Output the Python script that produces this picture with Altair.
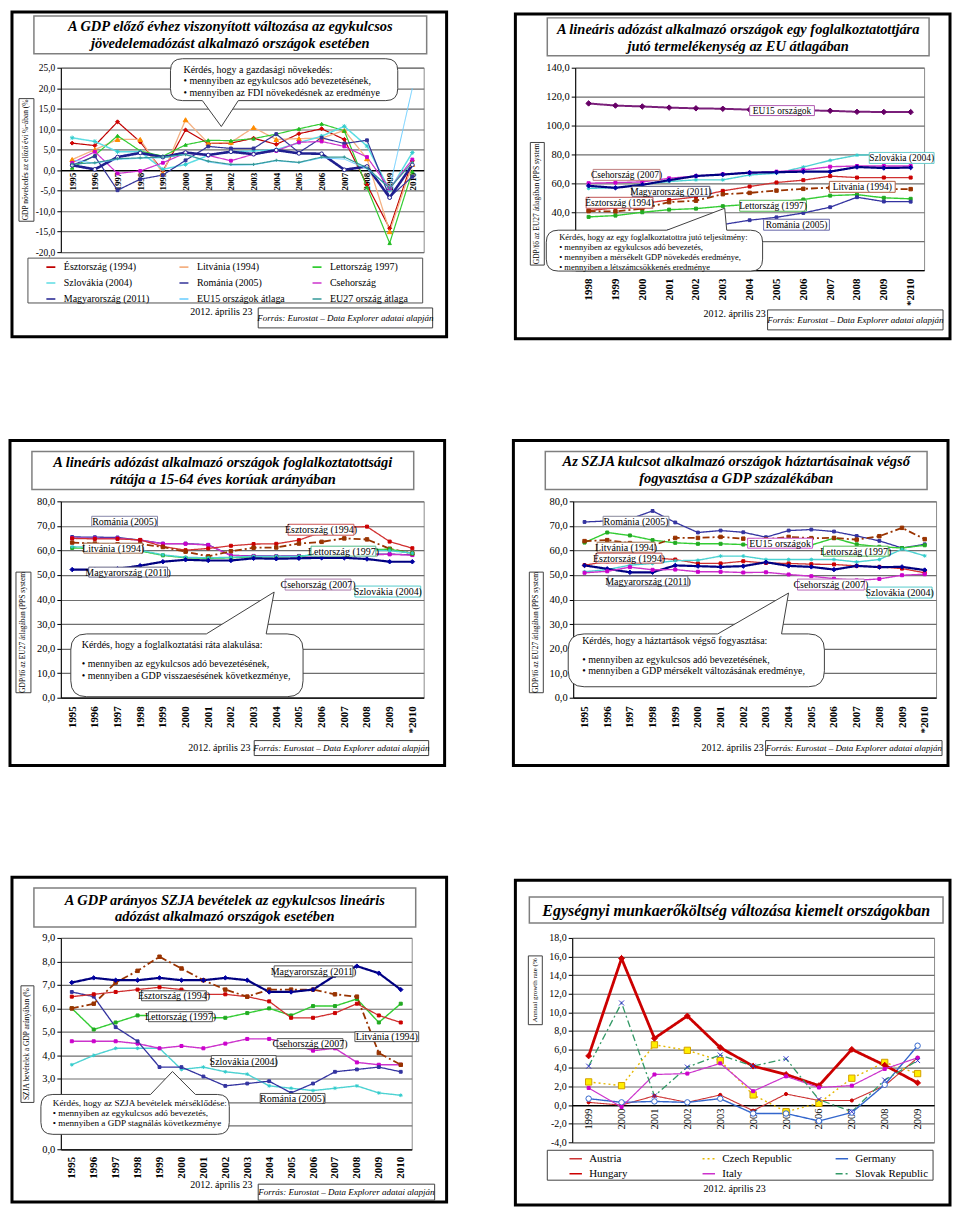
import altair as alt
import pandas as pd

FONT = "Liberation Serif"

# ---------------- data ----------------
YEARS_95 = list(range(1995, 2011))
YEARS_98 = list(range(1998, 2011))
YEARS_99 = list(range(1999, 2010))

# Panel 1: GDP change on previous year (%)
gdp_names = ["Észtország (1994)", "Litvánia (1994)", "Lettország 1997)",
             "Szlovákia (2004)", "Románia (2005)", "Csehország",
             "Magyarország (2011)", "EU15 országok átlaga", "EU27 ország átlaga"]
gdp_esztorszag = [6.6, 6.0, 11.8, 6.9, -0.2, 9.8, 6.5, 6.6, 7.8, 6.3, 8.9, 10.1, 7.5, -3.6, -14.2, 2.3]
gdp_litvania = [2.6, 5.0, 7.5, 7.5, -0.8, 12.3, 6.6, 6.8, 10.4, 7.5, 7.7, 7.8, 9.7, 2.8, -15.0, 1.4]
gdp_lettorszag = [0.6, 3.6, 8.4, 4.7, 3.4, 6.2, 7.3, 7.2, 7.7, 8.8, 10.1, 11.3, 9.6, -4.2, -17.8, -0.3]
gdp_szlovakia = [7.9, 7.0, 4.5, 4.5, 0.2, 1.4, 3.6, 4.5, 4.7, 5.0, 6.7, 8.3, 10.7, 5.9, -4.9, 4.3]
gdp_romania = [1.2, 3.4, -4.9, -2.2, -1.2, 2.4, 5.8, 5.3, 5.3, 8.8, 4.3, 7.9, 6.5, 7.3, -6.6, -1.6]
gdp_csehorszag = [1.8, 4.5, -0.8, -0.2, 1.8, 4.2, 3.6, 2.3, 3.9, 4.7, 6.8, 7.0, 5.8, 3.2, -4.5, 2.6]
gdp_magyarorszag = [1.2, 0.2, 3.2, 4.2, 3.2, 4.3, 3.7, 4.5, 3.9, 4.9, 4.1, 4.0, 0.1, 0.9, -6.7, 1.3]
gdp_eu15 = [2.5, 1.7, 2.6, 2.9, 3.0, 3.9, 2.0, 1.2, 1.3, 2.3, 1.8, 3.0, 2.7, 0.3, -4.3, 20.0]
gdp_eu27 = [1.5, 1.8, 2.8, 3.0, 3.2, 3.8, 2.2, 1.4, 1.4, 2.4, 1.9, 3.2, 3.2, 0.6, -4.4, 1.9]

# Panel 2: productivity per employed person (EU27 = 100)
prod_names = ["EU15 országok", "Szlovákia (2004)", "Csehország (2007)", "Magyarország (2011)",
              "Észtország (1994)", "Litvánia (1994)", "Lettország (1997)", "Románia (2005)"]
prod_eu15 = [115.3, 113.8, 113.2, 112.4, 111.9, 111.6, 111.0, 110.7, 110.5, 110.2, 109.5, 109.4, 109.3]
prod_szlovakia = [56.5, 57.0, 59.2, 61.3, 62.4, 62.4, 65.8, 67.0, 71.3, 75.9, 79.5, 80.0, 80.5]
prod_csehorszag = [60.1, 60.5, 61.0, 63.5, 65.1, 66.3, 67.4, 68.1, 69.3, 71.5, 72.0, 72.0, 72.0]
prod_magyarorszag = [58.3, 56.9, 59.0, 62.2, 65.1, 66.1, 67.4, 67.7, 68.1, 68.1, 71.3, 70.6, 70.9]
prod_esztorszag = [41.2, 43.0, 46.0, 48.5, 50.6, 54.8, 57.8, 60.6, 62.2, 65.0, 64.0, 64.0, 64.0]
prod_litvania = [40.8, 40.5, 42.5, 47.0, 48.0, 52.5, 53.4, 55.0, 56.2, 57.0, 57.0, 56.0, 56.0]
prod_lettorszag = [36.8, 37.7, 40.0, 41.8, 42.5, 44.2, 45.5, 47.0, 48.8, 51.5, 52.2, 50.0, 49.3]
prod_romania = [24.5, 25.0, 25.5, 27.0, 28.5, 31.5, 34.5, 36.5, 39.5, 43.5, 50.4, 47.4, 47.3]

# Panel 3: employment rate (15-64)
emp_names = ["Románia (2005)", "Csehország (2007)", "Észtország (1994)", "Litvánia (1994)",
             "Lettország (1997)", "Szlovákia (2004)", "Magyarország (2011)"]
emp_romania = [65.5, 65.4, 65.3, 64.2, 62.8, 62.8, 62.3, 58.0, 57.8, 57.7, 57.8, 58.0, 58.0, 58.4, 58.5, 58.2]
emp_csehorszag = [65.0, 64.9, 64.9, 64.2, 62.7, 62.7, 62.2, 57.9, 57.7, 57.6, 57.7, 57.9, 57.9, 58.3, 58.4, 58.1]
emp_esztorszag = [64.9, 64.7, 64.7, 64.3, 61.6, 60.1, 60.8, 61.9, 62.6, 62.7, 64.2, 67.5, 69.4, 69.7, 63.6, 60.9]
emp_litvania = [63.2, 62.8, 62.5, 62.6, 61.4, 59.5, 57.6, 59.7, 61.1, 61.2, 62.8, 63.5, 64.9, 64.5, 60.7, 58.8]
emp_lettorszag = [61.0, 60.8, 60.5, 59.8, 58.0, 57.0, 56.8, 57.0, 57.4, 57.4, 57.5, 58.6, 60.3, 60.3, 60.5, 58.8]
emp_szlovakia = [61.5, 61.3, 61.0, 60.1, 58.2, 57.2, 57.0, 57.2, 57.6, 57.6, 57.6, 58.8, 60.5, 60.1, 59.9, 58.9]
emp_magyarorszag = [52.2, 52.2, 52.5, 53.8, 55.4, 56.2, 55.9, 55.9, 56.8, 56.6, 56.8, 57.0, 57.0, 56.5, 55.4, 55.4]

# Panel 4: household final consumption (% of GDP)
cons_names = ["Románia (2005)", "Lettország (1997)", "Litvánia (1994)", "Észtország (1994)",
              "Szlovákia (2004)", "Magyarország (2011)", "Csehország (2007)"]
cons_romania = [71.6, 72.0, 72.8, 76.1, 71.4, 67.3, 68.1, 67.4, 65.4, 68.1, 68.5, 67.7, 65.9, 63.9, 61.0, 62.5]
cons_lettorszag = [63.2, 67.3, 66.1, 64.2, 63.1, 62.7, 62.7, 62.4, 62.0, 62.0, 62.2, 65.0, 62.5, 61.5, 61.0, 62.1]
cons_litvania = [63.8, 64.2, 63.0, 62.0, 65.1, 65.1, 65.5, 64.8, 64.5, 65.5, 65.0, 65.1, 64.4, 65.8, 69.2, 64.6]
cons_esztorszag = [54.0, 55.5, 56.5, 57.0, 56.3, 54.7, 54.7, 55.6, 54.9, 54.7, 54.4, 54.3, 53.7, 53.3, 52.6, 50.9]
cons_szlovakia = [51.3, 52.2, 54.0, 54.7, 55.8, 56.0, 57.7, 57.7, 56.3, 56.3, 56.3, 56.3, 55.3, 56.3, 60.5, 57.8]
cons_magyarorszag = [53.9, 52.5, 51.1, 51.1, 53.9, 53.6, 53.3, 53.6, 55.2, 53.7, 53.3, 52.2, 53.7, 53.2, 53.3, 52.0]
cons_csehorszag = [50.9, 51.5, 53.2, 52.1, 52.2, 51.3, 51.3, 51.0, 51.1, 50.2, 49.5, 48.5, 47.8, 48.4, 49.9, 50.3]

# Panel 5: personal income tax revenue (% of GDP)
pit_names = ["Lettország (1997)", "Szlovákia (2004)", "Csehország (2007)", "Románia (2005)",
             "Észtország (1994)", "Litvánia (1994)", "Magyarország (2011)"]
pit_lettorszag = [6.0, 5.1, 5.4, 5.7, 5.7, 5.7, 5.6, 5.6, 5.8, 6.0, 5.7, 6.1, 6.1, 6.4, 5.4, 6.2]
pit_szlovakia = [3.6, 4.0, 4.3, 4.3, 4.3, 3.4, 3.5, 3.3, 3.2, 2.7, 2.6, 2.5, 2.6, 2.7, 2.4, 2.3]
pit_csehorszag = [4.6, 4.6, 4.6, 4.5, 4.3, 4.4, 4.3, 4.5, 4.7, 4.7, 4.5, 4.2, 4.3, 3.7, 3.6, 3.6]
pit_romania = [6.7, 6.5, 5.2, 4.6, 3.5, 3.5, 3.1, 2.7, 2.8, 2.9, 2.4, 2.8, 3.3, 3.4, 3.5, 3.3]
pit_esztorszag = [6.5, 6.6, 6.7, 6.8, 6.9, 6.8, 6.6, 6.6, 6.5, 6.3, 5.6, 5.6, 5.8, 6.2, 5.7, 5.4]
pit_litvania = [6.0, 6.2, 7.1, 7.6, 8.2, 7.7, 7.2, 6.8, 6.5, 6.8, 6.8, 6.8, 6.6, 6.5, 4.1, 3.6]
pit_magyarorszag = [7.1, 7.3, 7.2, 7.2, 7.3, 7.2, 7.2, 7.3, 7.2, 6.7, 6.7, 6.8, 7.4, 7.8, 7.5, 6.8]

# Panel 6: unit labour cost, annual growth rate (%)
ulc_names = ["Austria", "Czech Republic", "Germany", "Hungary", "Italy", "Slovak Republic"]
ulc_austria = [0.3, 0.0, 1.0, 0.3, 1.1, -0.6, 1.2, 0.5, 0.5, 2.1, 5.1]
ulc_czech = [2.5, 2.1, 6.5, 5.9, 4.8, 1.1, -0.7, 0.2, 2.9, 4.6, 3.4]
ulc_germany = [0.7, 0.3, 0.4, 0.3, 0.7, -0.9, -0.9, -1.7, -0.8, 2.2, 6.4]
ulc_hungary = [5.3, 15.8, 7.2, 9.6, 6.2, 4.2, 3.3, 2.1, 6.0, 4.3, 2.4]
ulc_italy = [1.85, -0.2, 3.3, 3.4, 4.5, 1.5, 3.1, 1.9, 2.1, 3.9, 5.1]
ulc_slovak = [4.2, 11.0, 1.0, 4.1, 5.4, 4.2, 5.0, 0.6, -0.7, 2.7, 4.8]

DATE = "2012. április 23"
SOURCE = "Forrás: Eurostat – Data Explorer adatai alapján"
YT_PPS = "GDP/fő az EU27 átlagában (PPS system"

# ---------------- styles ----------------
SOLID = [1, 0]
DASHDOT = [7, 3, 2, 3]
DOT = [2, 3]
ASTER = "M-1,0L1,0M0,-1L0,1M-0.7,-0.7L0.7,0.7M-0.7,0.7L0.7,-0.7"
XMARK = "M-1,-1L1,1M-1,1L1,-1"
PLUS = "M-1,0L1,0M0,-1L0,1"

STY_GDP = {
    "Észtország (1994)": ("#C00000", 1.2, SOLID, ("diamond", 16, "#E00000", "#C00000")),
    "Litvánia (1994)": ("#F4B183", 1.3, SOLID, ("triangle-up", 22, "#FF8C00", "#FF8C00")),
    "Lettország 1997)": ("#33CC33", 1.2, SOLID, ("triangle-up", 12, "#22BB22", "#22BB22")),
    "Szlovákia (2004)": ("#5CDDE3", 1.5, SOLID, (ASTER, 20, "#33CCCC", "#33CCCC")),
    "Románia (2005)": ("#333399", 1.2, SOLID, ("square", 8, "#333399", "#333399")),
    "Csehország": ("#CC33CC", 1.2, SOLID, ("square", 8, "#CC00CC", "#CC00CC")),
    "Magyarország (2011)": ("#1F1F8F", 2.6, SOLID, ("circle", 14, "#FFFFFF", "#1F1F8F")),
    "EU15 országok átlaga": ("#66CCFF", 1.0, SOLID, None),
    "EU27 ország átlaga": ("#339999", 1.2, SOLID, (PLUS, 10, "#339999", "#339999")),
}
STY_C = {
    "EU15 országok": ("#7A1F7A", 2.0, SOLID, ("diamond", 30, "#660066", "#660066")),
    "Szlovákia (2004)": ("#4DD2D2", 1.4, SOLID, (ASTER, 14, "#33CCCC", "#33CCCC")),
    "Csehország (2007)": ("#CC33CC", 1.4, SOLID, ("square", 9, "#CC00CC", "#CC00CC")),
    "Magyarország (2011)": ("#000080", 2.2, SOLID, ("diamond", 20, "#0000A0", "#0000A0")),
    "Észtország (1994)": ("#D03030", 1.3, SOLID, ("square", 9, "#CC0000", "#CC0000")),
    "Litvánia (1994)": ("#993300", 1.8, DASHDOT, ("square", 12, "#993300", "#993300")),
    "Lettország (1997)": ("#33CC33", 1.4, SOLID, ("square", 9, "#22AA22", "#22AA22")),
    "Románia (2005)": ("#3333A0", 1.3, SOLID, ("square", 8, "#3333A0", "#3333A0")),
}
STY_ULC = {
    "Austria": ("#CC3333", 1.1, SOLID, ("circle", 10, "#CC0000", "#CC0000")),
    "Czech Republic": ("#E6B800", 1.4, DOT, ("square", 40, "#FFEE00", "#D4A000")),
    "Germany": ("#3366CC", 1.4, SOLID, ("circle", 30, "#FFFFFF", "#3366CC")),
    "Hungary": ("#CC0000", 2.8, SOLID, ("diamond", 35, "#CC0000", "#CC0000")),
    "Italy": ("#CC33CC", 1.2, SOLID, ("square", 9, "#CC00CC", "#CC00CC")),
    "Slovak Republic": ("#339966", 1.3, DASHDOT, (XMARK, 25, "#3333CC", "#3333CC")),
}


def col_major(names, ncols=3):
    """Order the legend entries so that a column-filled grid reads row by row."""
    nrows = -(-len(names) // ncols)
    return [names[r * ncols + c] for c in range(ncols) for r in range(nrows)
            if r * ncols + c < len(names)]


LBL = "replace(replace(format(datum.value, '.1f'), '.', ','), '\u2212', '-')"


class Panel:
    def __init__(self, px, py, w, h, frame):
        self.px, self.py, self.w, self.h, self.frame = px, py, w, h, frame

    def rx(self, x):
        return round(x - self.px, 1)

    def ry(self, y):
        return round(y - self.py, 1)


ONE = [{"k": 0}]


def frame_layer(p):
    x0, y0, x1, y1 = p.frame
    return alt.Chart(alt.Data(values=ONE)).mark_rect(
        fill="transparent", stroke="black", strokeWidth=3).encode(
        x=alt.value(p.rx(x0)), x2=alt.value(p.rx(x1)),
        y=alt.value(p.ry(y0)), y2=alt.value(p.ry(y1)))


def box_layer(p, boxes):
    df = pd.DataFrame([{"x0": p.rx(b[0]), "x1": p.rx(b[1]), "y0": p.ry(b[2]), "y1": p.ry(b[3]),
                        "stroke": b[4], "sw": b[5]} for b in boxes])
    return alt.Chart(df).mark_rect(fill="white").encode(
        x=alt.X("x0:Q", scale=None, axis=None), x2=alt.X2("x1:Q"),
        y=alt.Y("y0:Q", scale=None, axis=None), y2=alt.Y2("y1:Q"),
        stroke=alt.Stroke("stroke:N", scale=None),
        strokeWidth=alt.StrokeWidth("sw:Q", scale=None))


def T(p, x, y, s, size=10, weight="normal", style="normal", align="center", angle=0,
      color="black", baseline="middle"):
    return alt.Chart(alt.Data(values=[{"t": s}])).mark_text(
        font=FONT, fontSize=size, fontWeight=weight, fontStyle=style, align=align,
        baseline=baseline, angle=angle, color=color).encode(
        x=alt.value(p.rx(x)), y=alt.value(p.ry(y)), text="t:N")


def callout(p, x0, y0, x1, y1, r, side, b1, b2, tx, ty):
    w, h = x1 - x0, y1 - y0
    b1, b2, tx, ty = b1 - x0, b2 - x0, tx - x0, ty - y0
    if side == "top":
        path = (f"M{r},0L{b1},0L{tx},{ty}L{b2},0L{w - r},0Q{w} 0 {w} {r}L{w},{h - r}"
                f"Q{w} {h} {w - r} {h}L{r},{h}Q0 {h} 0 {h - r}L0,{r}Q0 0 {r} 0Z")
    else:
        path = (f"M{r},0L{w - r},0Q{w} 0 {w} {r}L{w},{h - r}Q{w} {h} {w - r} {h}"
                f"L{b2},{h}L{tx},{ty}L{b1},{h}L{r},{h}Q0 {h} 0 {h - r}L0,{r}Q0 0 {r} 0Z")
    return alt.Chart(alt.Data(values=ONE)).mark_point(
        shape=path, size=4, filled=True, fill="white", stroke="#404040",
        strokeWidth=1, opacity=1).encode(x=alt.value(p.rx(x0)), y=alt.value(p.ry(y0)))


def labels(p, items, size=9.5):
    out = [box_layer(p, [(it[1], it[2], it[3], it[4], it[5], 1) for it in items])]
    for it in items:
        out.append(T(p, (it[1] + it[2]) / 2, (it[3] + it[4]) / 2 + 0.5, it[0], size=size))
    return out


def y_axis(values, fs, hide_below=None):
    expr = LBL
    if hide_below is not None:
        expr = f"datum.value < {hide_below} ? '' : " + LBL
    return alt.Axis(values=list(values), labelExpr=expr, labelFont=FONT, labelFontSize=fs,
                    labelColor="black", grid=True, gridColor="#6e6e6e", gridWidth=1.2,
                    domainColor="black", tickColor="black", tickSize=4, labelPadding=2,
                    title=None, labelOverlap=False)


def x_axis(years, fs, bold, star, offset, pad):
    if star:
        expr = "datum.value == 2010 ? '*2010' : format(datum.value, 'd')"
    else:
        expr = "format(datum.value, 'd')"
    kw = dict(values=years, labelExpr=expr, labelAngle=270, labelAlign="right",
              labelBaseline="middle", labelFont=FONT, labelFontSize=fs,
              labelFontWeight="bold" if bold else "normal", labelColor="black",
              labelPadding=pad, labelOverlap=False, labelFlush=False, grid=False,
              ticks=False, domainColor="black", domainWidth=1.2, title=None)
    if offset:
        kw["offset"] = offset
    return alt.Axis(**kw)


def data_layers(years, names, series, styles, ydom, yax, xax, legend=None, order=None):
    rows = []
    for name, vals in zip(names, series):
        col, sw, dash, mk = styles[name]
        for yr, v in zip(years, vals):
            row = {"series": name, "year": yr, "value": v, "sw": sw}
            if mk is not None:
                row.update(shape=mk[0], msize=mk[1], mfill=mk[2], mstroke=mk[3], mk=1)
            else:
                row.update(shape="circle", msize=0, mfill="white", mstroke="white", mk=0)
            rows.append(row)
    df = pd.DataFrame(rows)
    dom = order if order is not None else names
    xs = alt.Scale(domain=[years[0] - 0.5, years[-1] + 0.5], nice=False, zero=False)
    ys = alt.Scale(domain=list(ydom), nice=False, zero=False)
    X = alt.X("year:Q", scale=xs, axis=xax)
    Y = alt.Y("value:Q", scale=ys, axis=yax)
    colors = [styles[n][0] for n in dom]
    dashes = [styles[n][2] for n in dom]
    line = alt.Chart(df).mark_line().encode(
        x=X, y=Y,
        color=alt.Color("series:N", scale=alt.Scale(domain=dom, range=colors), legend=legend),
        strokeDash=alt.StrokeDash("series:N", scale=alt.Scale(domain=dom, range=dashes),
                                  legend=legend),
        strokeWidth=alt.StrokeWidth("sw:Q", scale=None))
    pts = alt.Chart(df[df["mk"] == 1]).mark_point(filled=True, opacity=1, strokeWidth=1).encode(
        x=X, y=Y,
        shape=alt.Shape("shape:N", scale=None),
        fill=alt.Fill("mfill:N", scale=None),
        stroke=alt.Stroke("mstroke:N", scale=None),
        size=alt.Size("msize:Q", scale=None))
    return [line, pts]


def legend_spec(p, line_x0, row1_y, fs, symlen, label_x, pitch, maxlab, rowpad):
    # symbol is a 10 px unit box, the drawn stroke extends to symlen px
    half = symlen / 20.0
    lx = line_x0 + symlen / 2 - 5
    loff = label_x - (lx + 10)
    cell = 10 + loff + maxlab
    return alt.Legend(title=None, orient="none", legendX=p.rx(lx), legendY=p.ry(row1_y - fs / 2),
                      columns=3, gridAlign="all", columnPadding=max(pitch - cell, 0),
                      rowPadding=rowpad, symbolType=f"M{-half},0L{half},0", symbolSize=100,
                      symbolStrokeWidth=1.6, labelFont=FONT, labelFontSize=fs,
                      labelColor="black", labelOffset=loff, labelLimit=300, padding=0)


def title_block(p, box, cx, lines, ys, size):
    out = [box_layer(p, [(box[0], box[1], box[2], box[3], "#7f7f7f", 1.5)])]
    for s, y in zip(lines, ys):
        out.append(T(p, cx, y, s, size=size, weight="bold", style="italic"))
    return out


def ytitle(p, box, s, size=7.5):
    return [box_layer(p, [(box[0], box[1], box[2], box[3], "#404040", 1)]),
            T(p, (box[0] + box[1]) / 2, (box[2] + box[3]) / 2, s, size=size, angle=270)]


def source(p, box, date_xy):
    return [T(p, date_xy[0], date_xy[1], DATE, size=10),
            box_layer(p, [(box[0], box[1], box[2], box[3], "#404040", 1)]),
            T(p, (box[0] + box[1]) / 2, (box[2] + box[3]) / 2, SOURCE, size=9, style="italic")]


def assemble(p, layers):
    return alt.layer(*layers).properties(width=p.w, height=p.h)


# ---------------- panel 1 ----------------
p = Panel(60, 67, 364, 185, (11, 11, 447, 337))
L = [frame_layer(p)]
L += title_block(p, (33, 427, 15, 53), 230,
                 ["A GDP előző évhez viszonyított változása az egykulcsos",
                  "jövedelemadózást alkalmazó országok esetében"], [26, 43], 14.5)
L += ytitle(p, (18, 33, 98, 221), "GDP növekedés az előző évi %-ában (%")
L += [box_layer(p, [(27, 423, 258, 303, "#505050", 1)])]
L += data_layers(YEARS_95, gdp_names,
                 [gdp_esztorszag, gdp_litvania, gdp_lettorszag, gdp_szlovakia, gdp_romania,
                  gdp_csehorszag, gdp_magyarorszag, gdp_eu15, gdp_eu27],
                 STY_GDP, (-20, 25), y_axis(range(-20, 30, 5), 9.5),
                 x_axis(YEARS_95, 9, True, False, -(185 - 25 / 45 * 185), 2),
                 legend_spec(p, 40, 266, 10, 18, 61, 132.5, 92, 5),
                 order=col_major(gdp_names))
L += [callout(p, 170, 58, 398, 100, 12, "bottom", 202, 238, 221, 126),
      T(p, 183, 69, "Kérdés, hogy a gazdasági növekedés:", size=10, align="left"),
      T(p, 183, 80.5, "• mennyiben az egykulcsos adó bevezetésének,", size=10, align="left"),
      T(p, 183, 92, "• mennyiben az FDI növekedésnek az  eredménye", size=10, align="left")]
L += source(p, (258, 433, 308, 328), (221, 312))
panel1 = assemble(p, L)

# ---------------- panel 2 ----------------
p = Panel(578, 65, 350, 203, (518, 11, 954, 337))
L = [frame_layer(p)]
L += title_block(p, (550, 933, 15, 53), 741.5,
                 ["A lineáris adózást alkalmazó országok egy foglalkoztatottjára",
                  "jutó termelékenység az EU átlagában"], [27, 44], 14.5)
L += ytitle(p, (533, 547, 140, 263), YT_PPS)
L += data_layers(YEARS_98, prod_names,
                 [prod_eu15, prod_szlovakia, prod_csehorszag, prod_magyarorszag,
                  prod_esztorszag, prod_litvania, prod_lettorszag, prod_romania],
                 STY_C, (0, 140), y_axis(range(0, 160, 20), 10.5, hide_below=30),
                 x_axis(YEARS_98, 11, True, True, 0, 8))
L += labels(p, [("EU15 országok", 753, 818, 103, 113, "#B05AB0"),
                ("Szlovákia (2004)", 873, 938, 150, 161, "#66CCCC"),
                ("Csehország (2007)", 596, 663, 167, 178, "#C08080"),
                ("Magyarország (2011)", 635, 713, 184, 194, "#555577"),
                ("Litvánia (1994)", 833, 899, 179, 190, "#B06040"),
                ("Észtország (1994)", 589, 656, 195, 206, "#C05050"),
                ("Lettország (1997)", 743, 810, 198, 209, "#55BB55"),
                ("Románia (2005)", 767, 833, 217, 228, "#6666AA")], size=9.5)
L += [callout(p, 549, 228, 766, 269, 12, "top", 670, 730, 728, 206),
      T(p, 562, 234.5, "Kérdés, hogy az egy foglalkoztatottra jutó teljesítmény:", size=8.5, align="left"),
      T(p, 562, 244.5, "• mennyiben az egykulcsos adó bevezetés,", size=8.5, align="left"),
      T(p, 562, 254.5, "• mennyiben a mérsékelt GDP növekedés eredménye,", size=8.5, align="left"),
      T(p, 562, 264.5, "• mennyiben a létszámcsökkenés eredménye", size=8.5, align="left")]
L += source(p, (771, 947, 308, 328), (738, 312))
panel2 = assemble(p, L)

# ---------------- panel 3 ----------------
p = Panel(62, 502, 364, 197, (11, 441, 447, 767))
L = [frame_layer(p)]
L += title_block(p, (33, 416, 452, 490), 224.5,
                 ["A lineáris adózást alkalmazó országok foglalkoztatottsági",
                  "rátája a 15-64 éves korúak arányában"], [463.5, 480.5], 14.5)
L += ytitle(p, (17, 32, 573, 694), YT_PPS)
L += data_layers(YEARS_95, emp_names,
                 [emp_romania, emp_csehorszag, emp_esztorszag, emp_litvania, emp_lettorszag,
                  emp_szlovakia, emp_magyarorszag],
                 STY_C, (0, 80), y_axis(range(0, 90, 10), 10.5),
                 x_axis(YEARS_95, 11, True, True, 0, 8))
L += labels(p, [("Románia (2005)", 93, 159, 517, 527, "#8888AA"),
                ("Litvánia (1994)", 85, 144, 544, 554, "#A07050"),
                ("Magyarország (2011)", 90, 169, 568, 578, "#666688"),
                ("Észtország (1994)", 290, 356, 525, 536, "#CC5555"),
                ("Lettország (1997)", 313, 378, 547, 557, "#55BB88"),
                ("Csehország (2007)", 287, 353, 580, 591, "#AA77AA"),
                ("Szlovákia (2004)", 357, 423, 587, 598, "#55CCCC")], size=10)
L += [callout(p, 72, 635, 305, 698, 16, "top", 208, 268, 276, 593),
      T(p, 83, 646, "Kérdés, hogy a foglalkoztatási ráta alakulása:", size=10, align="left"),
      T(p, 83, 665.5, "• mennyiben az egykulcsos adó bevezetésének,", size=10, align="left"),
      T(p, 83, 677, "• mennyiben a GDP visszaesésének  következménye,", size=10, align="left")]
L += source(p, (256, 431, 742, 757), (221, 749))
panel3 = assemble(p, L)

# ---------------- panel 4 ----------------
p = Panel(578, 502, 364, 197, (518, 441, 954, 767))
L = [frame_layer(p)]
L += title_block(p, (550, 933, 452, 490), 741.5,
                 ["Az SZJA kulcsot alkalmazó országok háztartásainak végső",
                  "fogyasztása a GDP százalékában"], [463, 480], 14.5)
L += ytitle(p, (534, 548, 573, 694), YT_PPS)
L += data_layers(YEARS_95, cons_names,
                 [cons_romania, cons_lettorszag, cons_litvania, cons_esztorszag, cons_szlovakia,
                  cons_magyarorszag, cons_csehorszag],
                 STY_C, (0, 80), y_axis(range(0, 90, 10), 10.5),
                 x_axis(YEARS_95, 11, True, True, 0, 8))
L += labels(p, [("Románia (2005)", 608, 674, 517, 527, "#888899"),
                ("Litvánia (1994)", 602, 660, 543, 553, "#A07050"),
                ("Észtország (1994)", 601, 667, 554, 564, "#CC5555"),
                ("Magyarország (2011)", 613, 693, 577, 587, "#666688"),
                ("EU15 országok", 753, 818, 539, 549, "#CC55CC"),
                ("Lettország (1997)", 829, 894, 547, 557, "#55BB55"),
                ("Csehország (2007)", 803, 870, 580, 591, "#BB66BB"),
                ("Szlovákia (2004)", 873, 938, 588, 599, "#55CCCC")], size=10)
L += [callout(p, 573, 635, 830, 688, 16, "top", 723, 787, 794, 594),
      T(p, 587, 642, "Kérdés, hogy a háztartások végső fogyasztása:", size=10, align="left"),
      T(p, 587, 661, "• mennyiben az egykulcsos adó bevezetésének,", size=10, align="left"),
      T(p, 587, 672.5, "• mennyiben a GDP mérsékelt változásának eredménye,", size=10, align="left")]
L += source(p, (771, 948, 742, 757), (738, 749))
panel4 = assemble(p, L)

# ---------------- panel 5 ----------------
p = Panel(60, 938, 352, 212, (11, 877, 447, 1203))
L = [frame_layer(p)]
L += title_block(p, (33, 416, 888, 927), 224.5,
                 ["A GDP arányos SZJA bevételek az egykulcsos lineáris",
                  "adózást alkalmazó országok esetében"], [901, 917], 14.5)
L += ytitle(p, (20, 33, 986, 1103), "SZJA bevételek a GDP arányában (%")
L += data_layers(YEARS_95, pit_names,
                 [pit_lettorszag, pit_szlovakia, pit_csehorszag, pit_romania, pit_esztorszag,
                  pit_litvania, pit_magyarorszag],
                 STY_C, (0, 9), y_axis(range(0, 10), 10.5),
                 x_axis(YEARS_95, 11, True, False, 0, 7))
L += labels(p, [("Magyarország (2011)", 274, 353, 966, 977, "#555555"),
                ("Észtország (1994)", 141, 206, 991, 1001, "#555555"),
                ("Lettország (1997)", 148, 212, 1012, 1022, "#555555"),
                ("Litvánia (1994)", 355, 419, 1032, 1042, "#555555"),
                ("Csehország (2007)", 277, 343, 1039, 1049, "#555555"),
                ("Szlovákia (2004)", 211, 276, 1056, 1067, "#555555"),
                ("Románia (2005)", 260, 325, 1094, 1104, "#555555")], size=10)
L += [callout(p, 40, 1095, 229, 1135, 12, "top", 150, 195, 172, 1072),
      T(p, 52, 1103.5, "Kérdés, hogy az SZJA bevételek mérséklődése:", size=9.2, align="left"),
      T(p, 52, 1113.5, "• mennyiben az egykulcsos adó bevezetés,", size=9.2, align="left"),
      T(p, 52, 1124, "• mennyiben a GDP stagnálás következménye", size=9.2, align="left")]
L += source(p, (258, 435, 1185, 1201), (221, 1186))
panel5 = assemble(p, L)

# ---------------- panel 6 ----------------
p = Panel(575, 935, 363, 205, (518, 877, 954, 1203))
L = [frame_layer(p)]
L += title_block(p, (532, 947, 894, 920), 739.5,
                 ["Egységnyi munkaerőköltség változása kiemelt országokban"], [908], 16)
L += ytitle(p, (531, 545, 953, 1022), "Annual growth rate (%", size=7)
L += [box_layer(p, [(550, 937, 1148, 1178, "#404040", 1)])]
L += data_layers(YEARS_99, ulc_names,
                 [ulc_austria, ulc_czech, ulc_germany, ulc_hungary, ulc_italy, ulc_slovak],
                 STY_ULC, (-4, 18), y_axis(range(-4, 20, 2), 10),
                 x_axis(YEARS_99, 10.5, False, False, -(205 - 18 / 22 * 205), 3),
                 legend_spec(p, 565, 1156, 11, 25, 590, 128, 74, 4),
                 order=col_major(ulc_names))
L += [T(p, 738, 1187, DATE, size=10)]
panel6 = assemble(p, L)


def indep(c):
    return c.resolve_scale(color="independent", strokeDash="independent").resolve_legend(
        color="independent", strokeDash="independent")


row1 = indep(alt.hconcat(panel1, panel2, spacing=65))
row2 = indep(alt.hconcat(panel3, panel4, spacing=65))
row3 = indep(alt.hconcat(panel5, panel6, spacing=65))
lower = indep(alt.vconcat(row2, row3, spacing=108))

chart = indep(alt.vconcat(row1, lower, spacing=98, padding=0, background="white")).configure_view(
    stroke="#8c8c8c", strokeWidth=1)

chart.save("out.html", embed_options={"renderer": "svg", "actions": False})
